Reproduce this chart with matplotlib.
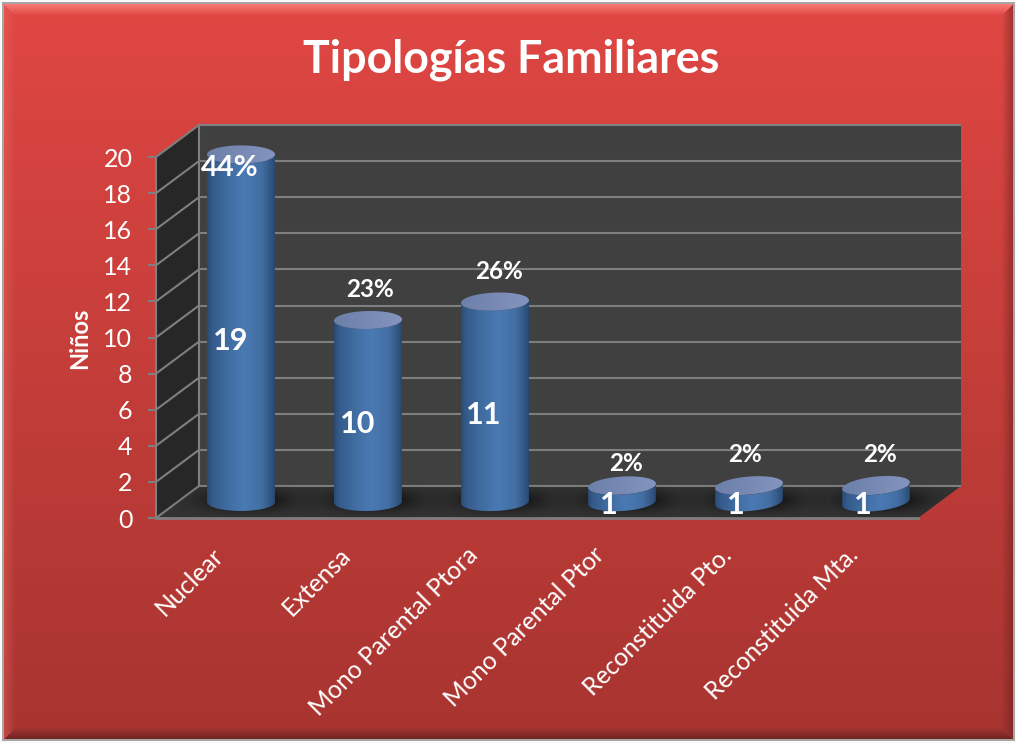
import numpy as np
import matplotlib
matplotlib.use("Agg")
import matplotlib.pyplot as plt
from matplotlib.patches import Polygon
from matplotlib.transforms import ScaledTranslation

categories = ["Nuclear", "Extensa", "Mono Parental Ptora", "Mono Parental Ptor",
              "Reconstituida Pto.", "Reconstituida Mta."]
ninos = [19, 10, 11, 1, 1, 1]
porcentajes = ["44%", "23%", "26%", "2%", "2%", "2%"]
y_ticks = list(range(0, 21, 2))
title = "Tipologías Familiares"
y_label = "Niños"

# layout only: pixel offsets of the labels from each cylinder
pct_offsets = [(-11, -14), (2, 31), (4, 30), (4, 22), (-4, 31), (4, 31)]
pct_sizes = [21, 17.5, 17.5, 17.5, 17.5, 17.5]
val_dx = [-10, -10, -11, -13, -13, -13]
val_dy = [-13, -13, -13, -11, -11, -11]

W, H = 1016, 743
L, R, T, B = 156, 918, 157, 518   # front plane in pixels
PXX = 6 / (R - L)     # data units per pixel
PXY = 20 / (B - T)
DX, DY = 43 * PXX, 32 * PXY       # depth of the 3D box
RX, RY = 34, 9        # cylinder ellipse radii, pixels
BAR_BASE, BAR_K = 14 * PXY, 18.4 * PXY   # perspective scale at mid depth

plt.rcParams['font.family'] = ['Lato', 'DejaVu Sans']
fig = plt.figure(figsize=(W / 100, H / 100), dpi=100)
fig.patch.set_facecolor('white')

# ---- background panel with bevel
bg = fig.add_axes([0, 0, 1, 1]); bg.axis('off')
yy, xx = np.mgrid[0:H, 0:W]
top_c, bot_c = np.array([224, 71, 67.]), np.array([167, 52, 48.])
t = ((yy - 4) / (H - 8.))[..., None]
img = top_c * (1 - t) + bot_c * t
x0, x1, y0, y1 = 4, 1012, 4, 738
dl, dr, dt, db = xx - x0, x1 - xx, yy - y0, y1 - yy
dmin = np.minimum.reduce([dl, dr, dt, db])
bw = 11.
def blend(mask, col, amt):
    f = (np.clip(1 - dmin / bw, 0, 1) * amt)[..., None] * mask[..., None]
    return img * (1 - f) + np.array(col, float) * f
img = blend(dt == dmin, (255, 140, 135), 0.75)
img = blend((dl == dmin) & (dt != dmin), (240, 110, 105), 0.35)
img = blend((dr == dmin) & (dt != dmin), (90, 30, 30), 0.45)
img = blend((db == dmin) & (dl != dmin) & (dr != dmin), (70, 25, 25), 0.55)
outside = (xx < x0) | (xx > x1) | (yy < y0) | (yy > y1)
edge = (xx >= x0 - 2) & (xx <= x1 + 2) & (yy >= y0 - 2) & (yy <= y1 + 2) & outside
img[outside] = (250, 250, 250)
img[edge] = (170, 165, 165)
bg.imshow(img.astype(np.uint8), extent=(0, W, H, 0), aspect='auto', interpolation='nearest')
bg.set_xlim(0, W); bg.set_ylim(H, 0)

# ---- main axes = front plane of the 3D box
ax = fig.add_axes([L / W, 1 - B / H, (R - L) / W, (B - T) / H])
ax.patch.set_alpha(0)
ax.set_xlim(-0.5, 5.5)
ax.set_ylim(0, 20)
for s in ax.spines.values():
    s.set_visible(False)

xl, xr = -0.5, 5.5
ymax = 20
GRID = '#7f7f7f'
LW = 1.5
ax.add_patch(Polygon([(xl + DX, DY), (xr + DX, DY), (xr + DX, ymax + DY), (xl + DX, ymax + DY)],
                     fc='#404040', ec='none', zorder=1, clip_on=False))
ax.add_patch(Polygon([(xl, 0), (xl + DX, DY), (xl + DX, ymax + DY), (xl, ymax)],
                     fc='#272727', ec='none', zorder=1, clip_on=False))
floor = Polygon([(xl, 0), (xr, 0), (xr + DX, DY), (xl + DX, DY)],
                fc='#333333', ec='none', zorder=1, clip_on=False)
ax.add_patch(floor)

for v in y_ticks:
    ax.plot([xl + DX, xr + DX - PXX], [v + DY, v + DY], color=GRID, lw=LW, zorder=2, clip_on=False)
    ax.plot([xl, xl + DX], [v, v + DY], color=GRID, lw=LW, zorder=2, clip_on=False)
ax.plot([xl, xl], [0, ymax], color=GRID, lw=LW, zorder=2, clip_on=False)
ax.plot([xl + DX, xl + DX], [DY, ymax + DY], color=GRID, lw=LW, zorder=2, clip_on=False)
ax.plot([xl, xr], [0, 0], color=GRID, lw=LW + .5, zorder=2, clip_on=False)

# ---- cylinders
def ell(cx, cy, tilt, t):
    a = np.radians(tilt)
    px = RX * np.cos(t) * np.cos(a) - RY * np.sin(t) * np.sin(a)
    py = RX * np.cos(t) * np.sin(a) + RY * np.sin(t) * np.cos(a)
    return np.column_stack([cx + px * PXX, cy + py * PXY])

stops = np.array([0, .08, .3, .55, .8, .93, 1])
cols = np.array([[40, 72, 112], [52, 90, 138], [64, 108, 160], [74, 122, 180],
                 [66, 110, 162], [50, 86, 130], [38, 68, 106]], float)
u = np.linspace(0, 1, 128)
body_grad = np.stack([np.interp(u, stops, cols[:, k]) for k in range(3)], -1)[None] / 255
top_grad = np.stack([np.interp(u, [0, 1], [108, 132]),
                     np.interp(u, [0, 1], [128, 148]),
                     np.interp(u, [0, 1], [170, 190])], -1)[None] / 255

sy, sx = np.mgrid[-1:1:80j, -1:1:160j]
shadow = np.zeros(sx.shape + (4,))
shadow[..., 3] = 0.8 * np.exp(-(sx ** 2 + sy ** 2) * 3.0)

for i, v in enumerate(ninos):
    cx, cb = i + DX / 2, DY / 2
    ct = BAR_BASE + v * BAR_K
    tilt = i * 1.2
    # contact shadow on the floor
    sh = ax.imshow(shadow, extent=(cx - 68 * PXX, cx + 78 * PXX, cb - 16 * PXY, cb + 20 * PXY),
                   aspect='auto', zorder=3, interpolation='bilinear')
    sh.set_clip_path(floor); sh.set_clip_box(fig.bbox)
    th = np.linspace(np.pi, 2 * np.pi, 60)
    low = ell(cx, cb, tilt, th)
    up = ell(cx, ct, tilt, th[::-1])
    body = Polygon(np.vstack([low, up]), closed=True, transform=ax.transData, fc='none', ec='none')
    ax.add_patch(body); body.set_clip_on(False)
    extent = (cx - (RX + 1) * PXX, cx + (RX + 1) * PXX, cb - 20 * PXY, ct + 20 * PXY)
    im = ax.imshow(body_grad, extent=extent, aspect='auto', zorder=4, interpolation='bilinear')
    im.set_clip_path(body); im.set_clip_box(fig.bbox)
    cap = Polygon(ell(cx, ct, tilt, np.linspace(0, 2 * np.pi, 120)), closed=True, fc='none', ec='none')
    ax.add_patch(cap); cap.set_clip_on(False)
    im2 = ax.imshow(top_grad, extent=(cx - RX * PXX, cx + RX * PXX, ct - 12 * PXY, ct + 12 * PXY),
                    aspect='auto', zorder=5, interpolation='bilinear')
    im2.set_clip_path(cap); im2.set_clip_box(fig.bbox)
    # labels
    ax.annotate(str(v), xy=(cx, (cb + ct) / 2), xytext=(val_dx[i], val_dy[i]), textcoords='offset pixels',
                ha='center', va='center', color='white', fontsize=22, fontweight='bold',
                zorder=7, annotation_clip=False)
    ox, oy = pct_offsets[i]
    ax.annotate(porcentajes[i], xy=(cx, ct), xytext=(ox, oy), textcoords='offset pixels',
                ha='center', va='center', color='white', fontsize=pct_sizes[i], fontweight='bold',
                zorder=7, annotation_clip=False)

ax.set_xlim(-0.5, 5.5)
ax.set_ylim(0, 20)

# ---- axes text
ax.set_yticks(y_ticks)
ax.set_xticks(range(len(categories)))
ax.set_xticklabels(categories, rotation=45, ha='right', rotation_mode='anchor',
                   fontsize=17.8, color='white')
ax.tick_params(axis='x', length=0, pad=18)
ax.tick_params(axis='y', length=6, width=1.5, color=GRID, labelcolor='white', labelsize=18, pad=11)
shift = ScaledTranslation(-8 / 100, 0, fig.dpi_scale_trans)
for lab in ax.get_xticklabels():
    lab.set_transform(lab.get_transform() + shift)
ax.set_ylabel(y_label, color='white', fontsize=17, fontweight='bold')
ax.yaxis.set_label_coords((91 - L) / (R - L), (B - 338) / (B - T))
fig.text(511 / W, 1 - 59.5 / H, title, ha='center', va='center', color='white',
         fontsize=32.2, fontweight='bold')

fig.savefig('out.png', dpi=100)
